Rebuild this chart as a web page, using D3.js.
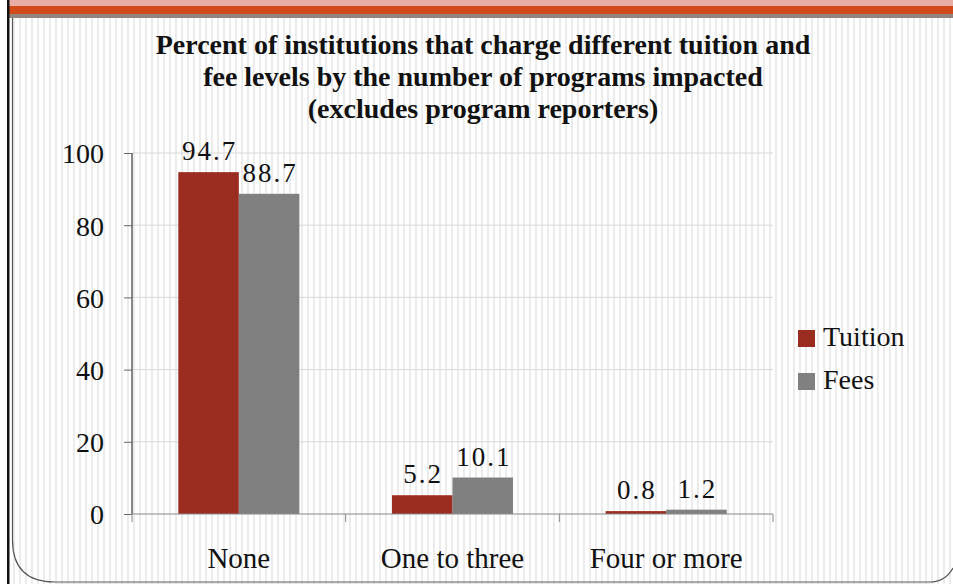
<!DOCTYPE html>
<html lang="en">
<head>
  <meta charset="UTF-8">
  <title>Tuition and fee levels by programs impacted</title>
  <script src="https://d3js.org/d3.v7.min.js"></script>
  <style>
    body { margin: 0; background: #fff; }
    svg { display: block; }
    svg text { font-family: "Liberation Serif", "DejaVu Serif", serif; }
  </style>
</head>
<body>
  <div id="chart"></div>
  <script>
    // Data
    const categories = ["None", "One to three", "Four or more"];
    const seriesNames = ["Tuition", "Fees"];
    const tuition = [94.7, 5.2, 0.8];
    const fees = [88.7, 10.1, 1.2];
    const yTicks = [0, 20, 40, 60, 80, 100];
    const titleLines = [
      "Percent of institutions that charge different tuition and",
      "fee levels by the number of programs impacted",
      "(excludes program reporters)"
    ];

    const colors = { Tuition: "#9b2d20", Fees: "#808080" };
    const serif = "Liberation Serif, DejaVu Serif, serif";

    const width = 953, height = 584;
    const plot = { left: 132, right: 773, top: 153, bottom: 514 };

    const svg = d3.select("#chart").append("svg")
      .attr("width", width).attr("height", height);

    // striped slide background
    const defs = svg.append("defs");
    const pat = defs.append("pattern")
      .attr("id", "stripes")
      .attr("patternUnits", "userSpaceOnUse")
      .attr("width", 6).attr("height", 10);
    pat.append("rect").attr("width", 6).attr("height", 10).attr("fill", "#ffffff");
    pat.append("rect").attr("x", 1).attr("width", 2).attr("height", 10).attr("fill", "#ececec");

    svg.append("rect").attr("x", 0).attr("y", 0).attr("width", width).attr("height", height)
      .attr("fill", "url(#stripes)");

    // top bands
    svg.append("rect").attr("x", 9).attr("y", 0).attr("width", width).attr("height", 6).attr("fill", "#e8aea6");
    svg.append("rect").attr("x", 9).attr("y", 6).attr("width", width).attr("height", 8).attr("fill", "#d34a1a");
    svg.append("rect").attr("x", 9).attr("y", 14).attr("width", width).attr("height", 4).attr("fill", "#948480");

    // left white margin + border lines
    svg.append("rect").attr("x", 0).attr("y", 0).attr("width", 7).attr("height", height).attr("fill", "#fff");
    svg.append("rect").attr("x", 7).attr("y", 0).attr("width", 2.5).attr("height", height).attr("fill", "#111");
    svg.append("path")
      .attr("d", `M12.5,18 V540 Q12.5,582 55,582 H930 Q945,582 953,568`)
      .attr("fill", "none").attr("stroke", "#555").attr("stroke-width", 1.2);
    svg.append("line").attr("x1", 55).attr("x2", 930).attr("y1", 582.5).attr("y2", 582.5)
      .attr("stroke", "#aaa").attr("stroke-width", 1.5);

    // title
    svg.append("text")
      .attr("text-anchor", "middle")
      .attr("font-weight", "bold")
      .attr("font-size", 28)
      .attr("fill", "#111")
      .selectAll("tspan")
      .data(titleLines)
      .join("tspan")
      .attr("x", 483)
      .attr("y", (d, i) => 54 + i * 32)
      .text(d => d);

    // scales
    const x0 = d3.scaleBand().domain(categories).range([plot.left, plot.right]).paddingInner(0).paddingOuter(0);
    const x1 = d3.scaleBand().domain(seriesNames).range([0, x0.bandwidth()]).paddingOuter(0.765).paddingInner(0);
    const y = d3.scaleLinear().domain([0, 100]).range([plot.bottom, plot.top]);

    // gridlines
    svg.append("g")
      .selectAll("line")
      .data(yTicks.filter(d => d > 0))
      .join("line")
      .attr("x1", plot.left).attr("x2", plot.right)
      .attr("y1", d => y(d)).attr("y2", d => y(d))
      .attr("stroke", "#d9d9d9").attr("stroke-width", 1);

    // bars
    const rows = categories.map((c, i) => ({ cat: c, values: [
      { name: "Tuition", value: tuition[i] },
      { name: "Fees", value: fees[i] }
    ]}));

    const groups = svg.append("g").selectAll("g")
      .data(rows).join("g")
      .attr("transform", d => `translate(${x0(d.cat)},0)`);

    groups.selectAll("rect")
      .data(d => d.values).join("rect")
      .attr("x", d => x1(d.name))
      .attr("y", d => y(d.value))
      .attr("width", x1.bandwidth())
      .attr("height", d => y(0) - y(d.value))
      .attr("fill", d => colors[d.name]);

    groups.selectAll("text")
      .data(d => d.values).join("text")
      .attr("x", d => x1(d.name) + x1.bandwidth() / 2 + 1)
      .attr("y", d => y(d.value) - 12)
      .attr("text-anchor", "middle")
      .attr("font-family", serif)
      .attr("font-size", 27)
      .attr("letter-spacing", 2)
      .attr("fill", "#111")
      .text(d => d.value.toFixed(1));

    // y axis
    const yAxis = svg.append("g")
      .attr("transform", `translate(${plot.left},0)`)
      .call(d3.axisLeft(y).tickValues(yTicks).tickSize(8).tickPadding(20));
    yAxis.select(".domain").attr("stroke", "#111").attr("d", `M0,${plot.top}V${plot.bottom}`);
    yAxis.selectAll(".tick line").attr("stroke", "#666");
    yAxis.selectAll("text").attr("font-size", 28).attr("fill", "#111")
      .attr("font-family", serif).attr("dy", "0.35em");

    // x axis
    const xAxis = svg.append("g")
      .attr("transform", `translate(0,${plot.bottom})`)
      .call(d3.axisBottom(x0).tickSize(0).tickPadding(33));
    xAxis.select(".domain").attr("stroke", "#888").attr("d", `M${plot.left},0H${plot.right}`);
    xAxis.selectAll("text").attr("font-size", 29).attr("fill", "#111")
      .attr("font-family", serif);
    // category boundary ticks
    svg.append("g").selectAll("line")
      .data(categories.map(c => x0(c)).concat([plot.right]))
      .join("line")
      .attr("x1", d => d).attr("x2", d => d)
      .attr("y1", plot.bottom).attr("y2", plot.bottom + 8)
      .attr("stroke", "#888");

    // legend
    const legend = svg.append("g").selectAll("g")
      .data(seriesNames).join("g")
      .attr("transform", (d, i) => `translate(798,${330 + i * 43})`);
    legend.append("rect").attr("width", 17).attr("height", 17).attr("fill", d => colors[d]);
    legend.append("text").attr("x", 25).attr("y", 16)
      .attr("font-family", serif)
      .attr("font-size", 28).attr("fill", "#111").text(d => d);
  </script>
</body>
</html>
